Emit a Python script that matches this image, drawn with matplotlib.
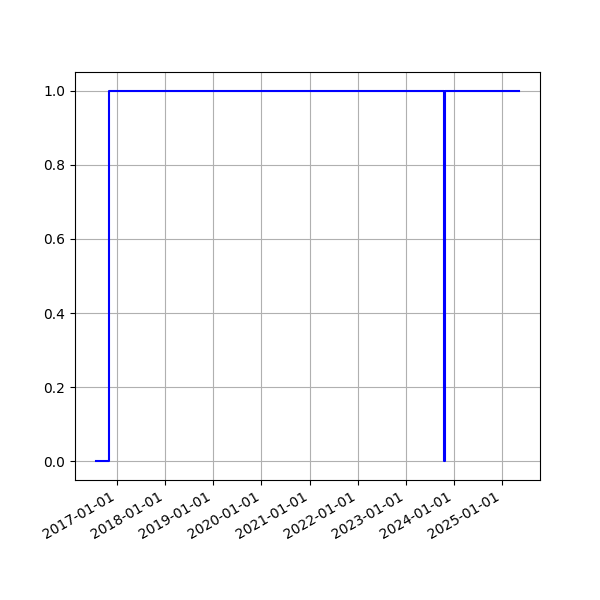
import matplotlib
matplotlib.use("Agg")
import matplotlib.pyplot as plt
import matplotlib.dates as mdates
import pandas as pd

# status change dates and values
dates = pd.to_datetime(["2016-07-25", "2016-11-01", "2023-10-22", "2023-10-23", "2025-05-09"])
status = [0, 1, 0, 1, 1]

fig, ax = plt.subplots(figsize=(6, 6), dpi=100)
ax.plot(dates, status, drawstyle="steps-post", color="blue")

ax.xaxis.set_major_locator(mdates.YearLocator())
ax.xaxis.set_major_formatter(mdates.DateFormatter("%Y-%m-%d"))
ax.grid(True)
fig.autofmt_xdate()

fig.savefig("out.png")
